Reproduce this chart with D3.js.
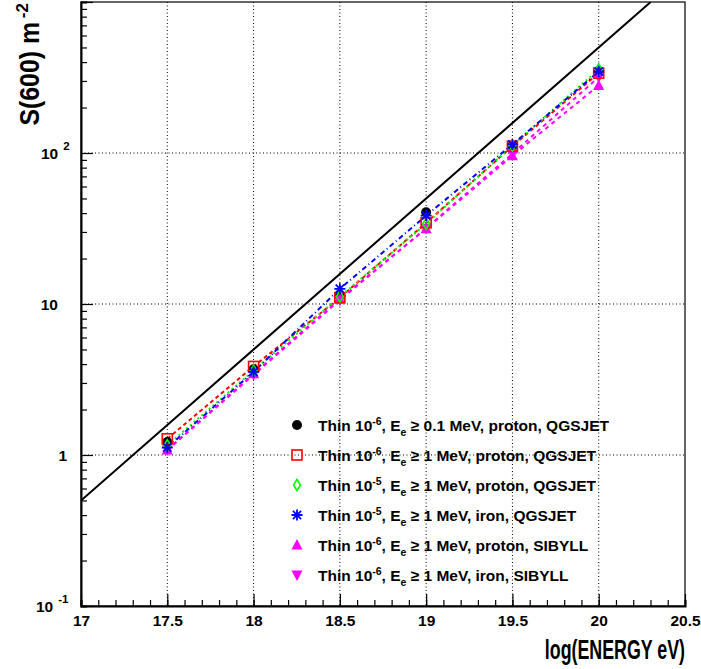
<!DOCTYPE html>
<html>
<head>
<meta charset="utf-8">
<script src="https://cdn.jsdelivr.net/npm/d3@7"></script>
<style>
  html, body { margin: 0; padding: 0; background: #fff; }
  svg text { font-family: "Liberation Sans", Arial, Helvetica, sans-serif; font-weight: bold; fill: #000; }
</style>
</head>
<body>
<svg id="chart" width="701" height="669"></svg>
<script>
// Primary energies, log10(E / eV)
const energies = [17.5, 18, 18.5, 19, 19.5, 20];

// S(600) in m^-2 for each simulation set
const thin6_01MeV_protonQGS = [1.22, 3.7, 11.4, 40.5, 112, 342];
const thin6_1MeV_protonQGS  = [1.28, 3.86, 11.0, 34.5, 111, 338];
const thin5_1MeV_protonQGS  = [1.16, 3.62, 11.2, 34.0, 112, 358];
const thin5_1MeV_ironQGS    = [1.12, 3.55, 12.6, 38.5, 114, 346];
const thin6_1MeV_protonSIB  = [1.08, 3.45, 10.8, 31.5, 96, 280];
const thin6_1MeV_ironSIB    = [1.08, 3.40, 10.6, 31.8, 99, 318];

// Reference line S = 0.5 * 10^(logE - 17)
const refLineE = [17, 20.30103];
const refLineS = [0.5, 1000];

// Axis ticks
const xMajorTicks = [17, 17.5, 18, 18.5, 19, 19.5, 20, 20.5];
const xTickLabels = ["17", "17.5", "18", "18.5", "19", "19.5", "20", "20.5"];
const yDecades = [0.1, 1, 10, 100, 1000];
const yLabelBase = ["10", "1", "10", "10"];
const yLabelExp  = ["-1", "", "", "2"];

const legendLabels = [
  ["Thin 10", "-6", ", E", "e", " \u2265 0.1 MeV, proton, QGSJET"],
  ["Thin 10", "-6", ", E", "e", " \u2265 1 MeV, proton, QGSJET"],
  ["Thin 10", "-5", ", E", "e", " \u2265 1 MeV, proton, QGSJET"],
  ["Thin 10", "-5", ", E", "e", " \u2265 1 MeV, iron, QGSJET"],
  ["Thin 10", "-6", ", E", "e", " \u2265 1 MeV, proton, SIBYLL"],
  ["Thin 10", "-6", ", E", "e", " \u2265 1 MeV, iron, SIBYLL"]
];

// z: stacking order of the markers in the plot
const seriesList = [
  { values: thin6_01MeV_protonQGS, color: "#000000", marker: "circle",  dash: null,      z: 0 },
  { values: thin6_1MeV_protonQGS,  color: "#ff0000", marker: "square",  dash: "4,3",     z: 3 },
  { values: thin5_1MeV_protonQGS,  color: "#00ff00", marker: "diamond", dash: "2,3",     z: 4 },
  { values: thin5_1MeV_ironQGS,    color: "#0000ff", marker: "star",    dash: "5,3,1,3", z: 5 },
  { values: thin6_1MeV_protonSIB,  color: "#ff00ff", marker: "triUp",   dash: "4,4",     z: 1 },
  { values: thin6_1MeV_ironSIB,    color: "#ff00ff", marker: "triDown", dash: "4,4",     z: 2 }
];

const svg = d3.select("#chart");
const pL = 81, pR = 685, pT = 2, pB = 606;

const x = d3.scaleLinear().domain([17, 20.5]).range([pL, pR]);
const y = d3.scaleLog().domain([0.1, 1000]).range([pB, pT]);

// clip region for the plotted data
svg.append("defs").append("clipPath").attr("id", "plotClip")
  .append("rect").attr("x", pL).attr("y", pT).attr("width", pR - pL).attr("height", pB - pT);

// Dotted grid at the labelled ticks
const grid = svg.append("g").attr("stroke", "#000").attr("stroke-width", 1).attr("stroke-dasharray", "1,2.5");
grid.selectAll("line.vx").data(xMajorTicks.slice(1, -1)).join("line")
  .attr("x1", d => x(d)).attr("x2", d => x(d)).attr("y1", pT).attr("y2", pB);
grid.selectAll("line.hy").data(yDecades.slice(1, -1)).join("line")
  .attr("x1", pL).attr("x2", pR).attr("y1", d => y(d)).attr("y2", d => y(d));

// Frame
svg.append("rect").attr("x", pL).attr("y", pT).attr("width", pR - pL).attr("height", pB - pT)
  .attr("fill", "none").attr("stroke", "#000").attr("stroke-width", 1.2);

// X axis ticks (inside, major + minor)
const xMinor = d3.range(170, 206).map(v => v / 10);
const gx = svg.append("g").attr("transform", `translate(0,${pB})`)
  .call(d3.axisBottom(x).tickValues(xMinor).tickSize(-6).tickFormat(""));
gx.select(".domain").attr("stroke-width", 2);
gx.selectAll(".tick line").attr("stroke-width", 1.2);
const gx2 = svg.append("g").attr("transform", `translate(0,${pB})`)
  .call(d3.axisBottom(x).tickValues(xMajorTicks).tickSize(-12).tickFormat((d, i) => xTickLabels[i]));
gx2.select(".domain").remove();
gx2.selectAll(".tick line").attr("stroke-width", 1.2);
gx2.selectAll(".tick text").attr("font-size", 15.5).attr("y", 20).attr("dy", 0);

// Y axis ticks (inside, log minors)
const yMinor = [];
[0.1, 1, 10, 100].forEach(d => { for (let k = 2; k <= 9; k++) yMinor.push(d * k); });
const gy = svg.append("g").attr("transform", `translate(${pL},0)`)
  .call(d3.axisLeft(y).tickValues(yMinor).tickSize(-6).tickFormat(""));
gy.select(".domain").attr("stroke-width", 2);
gy.selectAll(".tick line").attr("stroke-width", 1.2);
const gy2 = svg.append("g").attr("transform", `translate(${pL},0)`)
  .call(d3.axisLeft(y).tickValues(yDecades).tickSize(-12).tickFormat(""));
gy2.select(".domain").remove();
gy2.selectAll(".tick line").attr("stroke-width", 1.2);

// Y tick labels with exponents
const yLab = svg.append("g");
yDecades.slice(0, 4).forEach((d, i) => {
  const t = yLab.append("text").attr("font-size", 15.5).attr("y", y(d) + 5.5);
  if (yLabelExp[i]) {
    t.attr("x", yLabelExp[i].length > 1 ? 36 : 41).attr("text-anchor", "start");
    t.append("tspan").text(yLabelBase[i]);
    t.append("tspan").attr("dx", 5).attr("dy", -9).attr("font-size", 11.5).text(yLabelExp[i]);
  } else {
    t.attr("x", yLabelBase[i] === "1" ? 67 : 58).attr("text-anchor", "end").text(yLabelBase[i]);
  }
});

// Axis titles (horizontally condensed bold lettering)
svg.append("text").attr("transform", `translate(${pR},659) scale(0.66,1)`).attr("text-anchor", "end")
  .attr("font-size", 27).text("log(ENERGY eV)");
svg.append("text").attr("transform", "translate(39,22) rotate(-90) scale(0.92,1)").attr("text-anchor", "end")
  .attr("font-size", 27).text("S(600) m");
svg.append("text").attr("transform", "translate(28,3) rotate(-90)").attr("text-anchor", "end")
  .attr("font-size", 17).text("-2");

const plot = svg.append("g").attr("clip-path", "url(#plotClip)");

// Reference line
plot.append("path")
  .attr("d", d3.line().x(d => x(d[0])).y(d => y(d[1]))(refLineE.map((e, i) => [e, refLineS[i]])))
  .attr("fill", "none").attr("stroke", "#000").attr("stroke-width", 2);

// Series lines
const line = d3.line().x((d, i) => x(energies[i])).y(d => y(d));
seriesList.forEach(s => {
  if (!s.dash) return;
  plot.append("path").attr("d", line(s.values))
    .attr("fill", "none").attr("stroke", s.color).attr("stroke-width", 2)
    .attr("stroke-dasharray", s.dash);
});

// Marker drawing
function drawMarker(g, type, color, cx, cy) {
  if (type === "circle") {
    g.append("circle").attr("cx", cx).attr("cy", cy).attr("r", 5).attr("fill", color);
  } else if (type === "square") {
    g.append("rect").attr("x", cx - 5).attr("y", cy - 5).attr("width", 10).attr("height", 10)
      .attr("fill", "none").attr("stroke", color).attr("stroke-width", 1.6);
  } else if (type === "diamond") {
    g.append("path").attr("d", `M${cx},${cy - 5.5}L${cx + 3.5},${cy}L${cx},${cy + 5.5}L${cx - 3.5},${cy}Z`)
      .attr("fill", "none").attr("stroke", color).attr("stroke-width", 1.6);
  } else if (type === "star") {
    const r = 5.5, rr = r * 0.75;
    g.append("path").attr("d",
      `M${cx - r},${cy}L${cx + r},${cy}M${cx},${cy - r}L${cx},${cy + r}` +
      `M${cx - rr},${cy - rr}L${cx + rr},${cy + rr}M${cx - rr},${cy + rr}L${cx + rr},${cy - rr}`)
      .attr("stroke", color).attr("stroke-width", 1.8);
  } else if (type === "triUp") {
    g.append("path").attr("d", `M${cx},${cy - 6}L${cx + 5.5},${cy + 4.5}L${cx - 5.5},${cy + 4.5}Z`).attr("fill", color);
  } else if (type === "triDown") {
    g.append("path").attr("d", `M${cx},${cy + 6}L${cx + 5.5},${cy - 4.5}L${cx - 5.5},${cy - 4.5}Z`).attr("fill", color);
  }
}

seriesList.slice().sort((a, b) => a.z - b.z).forEach(s => {
  const g = plot.append("g");
  s.values.forEach((v, i) => drawMarker(g, s.marker, s.color, x(energies[i]), y(v)));
});

// Legend
const leg = svg.append("g");
seriesList.forEach((s, i) => {
  const ly = 425 + i * 30;
  drawMarker(leg, s.marker, s.color, 297, ly);
  const t = leg.append("text").attr("x", 318).attr("y", ly + 5.5).attr("font-size", 15.5);
  const p = legendLabels[i];
  t.append("tspan").text(p[0]);
  t.append("tspan").attr("dy", -6).attr("font-size", 10.5).text(p[1]);
  t.append("tspan").attr("dy", 6).text(p[2]);
  t.append("tspan").attr("dy", 5).attr("font-size", 10.5).text(p[3]);
  t.append("tspan").attr("dy", -5).text(p[4]);
});
</script>
</body>
</html>
